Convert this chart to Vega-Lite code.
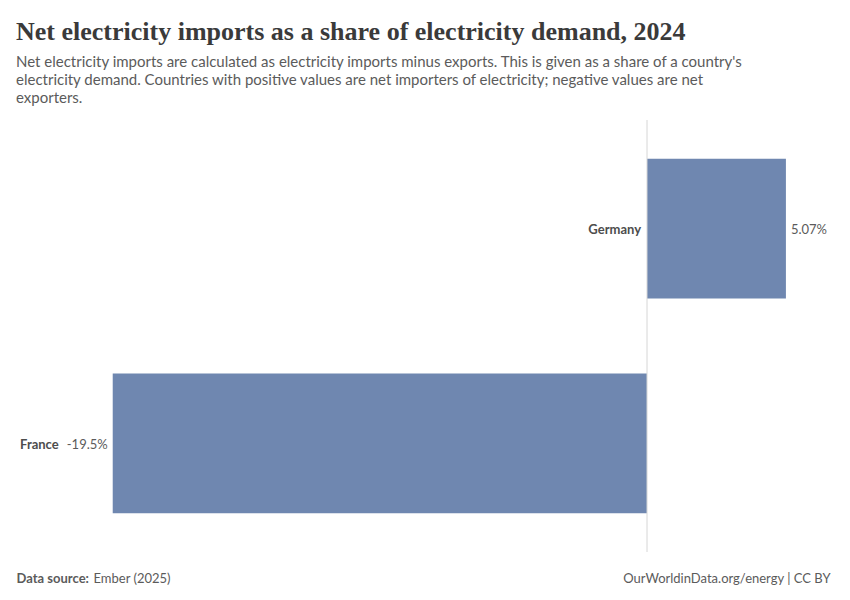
{
  "$schema": "https://vega.github.io/schema/vega-lite/v6.json",
  "width": 818,
  "height": 432,
  "autosize": {"type": "none"},
  "padding": {"left": 16, "right": 16, "top": 120, "bottom": 48},
  "background": "white",
  "config": {"view": {"stroke": null}, "font": "Lato"},
  "title": {
    "text": "Net electricity imports as a share of electricity demand, 2024",
    "subtitle": [
      "Net electricity imports are calculated as electricity imports minus exports. This is given as a share of a country's",
      "electricity demand. Countries with positive values are net importers of electricity; negative values are net",
      "exporters."
    ],
    "anchor": "start",
    "frame": "group",
    "font": "Liberation Serif",
    "fontSize": 26,
    "fontWeight": "bold",
    "color": "#3a3a3a",
    "subtitleFont": "Lato",
    "subtitleFontSize": 15,
    "subtitleColor": "#5b5b5b",
    "subtitleLineHeight": 18,
    "subtitlePadding": 10,
    "offset": 14
  },
  "data": {
    "values": [
      {"country": "Germany", "share": 5.07, "label": "5.07%"},
      {"country": "France", "share": -19.5, "label": "-19.5%"}
    ]
  },
  "layer": [
    {
      "mark": {"type": "bar", "color": "#6f87b0"},
      "encoding": {
        "y": {
          "field": "country",
          "type": "nominal",
          "scale": {"domain": ["Germany", "France"], "paddingInner": 0.35, "paddingOuter": 0.18},
          "axis": {
            "domain": false, "ticks": false, "labels": false, "grid": false,
            "title": "Data source:",
            "titleAngle": 0, "titleX": 0, "titleY": 462,
            "titleAlign": "left", "titleBaseline": "alphabetic",
            "titleFont": "Lato", "titleFontSize": 13, "titleFontWeight": "bold", "titleColor": "#5b5b5b"
          }
        },
        "x": {
          "field": "share",
          "type": "quantitative",
          "scale": {"domain": [-23.03, 6.825], "nice": false, "zero": false},
          "axis": {
            "domain": false, "ticks": false, "labels": false, "grid": false,
            "title": "Ember (2025)",
            "titleX": 77, "titleY": 30,
            "titleAlign": "left", "titleBaseline": "alphabetic",
            "titleFont": "Lato", "titleFontSize": 13, "titleFontWeight": "normal", "titleColor": "#5b5b5b"
          }
        }
      }
    },
    {
      "data": {"values": [{"zero": 0}]},
      "mark": {"type": "rule", "color": "#d6d6d6", "strokeWidth": 1},
      "encoding": {"x": {"field": "zero", "type": "quantitative", "axis": null}}
    },
    {
      "transform": [{"filter": "datum.share > 0"}],
      "mark": {"type": "text", "align": "left", "baseline": "middle", "dx": 5, "dy": 1.5, "fontSize": 13, "color": "#5b5b5b"},
      "encoding": {
        "y": {
          "field": "country", "type": "nominal",
          "axis": {
            "orient": "right",
            "domain": false, "ticks": false, "labels": false, "grid": false,
            "title": "OurWorldinData.org/energy | CC BY",
            "titleAngle": 0, "titleX": -4, "titleY": 462,
            "titleAlign": "right", "titleBaseline": "alphabetic",
            "titleFont": "Lato", "titleFontSize": 13, "titleFontWeight": "normal", "titleColor": "#5b5b5b"
          }
        },
        "x": {"field": "share", "type": "quantitative", "axis": null},
        "text": {"field": "label"}
      }
    },
    {
      "transform": [{"filter": "datum.share < 0"}],
      "mark": {"type": "text", "align": "right", "baseline": "middle", "dx": -5, "dy": 1.5, "fontSize": 13, "color": "#5b5b5b"},
      "encoding": {
        "y": {"field": "country", "type": "nominal", "axis": null},
        "x": {"field": "share", "type": "quantitative", "axis": null},
        "text": {"field": "label"}
      }
    },
    {
      "transform": [{"filter": "datum.share > 0"}],
      "mark": {"type": "text", "align": "right", "baseline": "middle", "dx": -6, "dy": 1.5, "fontSize": 13, "fontWeight": "bold", "color": "#4d4d4d"},
      "encoding": {
        "y": {"field": "country", "type": "nominal", "axis": null},
        "x": {"datum": 0, "axis": null},
        "text": {"field": "country"}
      }
    },
    {
      "transform": [{"filter": "datum.share < 0"}],
      "mark": {"type": "text", "align": "right", "baseline": "middle", "dx": -54, "dy": 1.5, "fontSize": 13, "fontWeight": "bold", "color": "#4d4d4d"},
      "encoding": {
        "y": {"field": "country", "type": "nominal", "axis": null},
        "x": {"field": "share", "type": "quantitative", "axis": null},
        "text": {"field": "country"}
      }
    }
  ],
  "resolve": {"axis": {"x": "independent", "y": "independent"}}
}
